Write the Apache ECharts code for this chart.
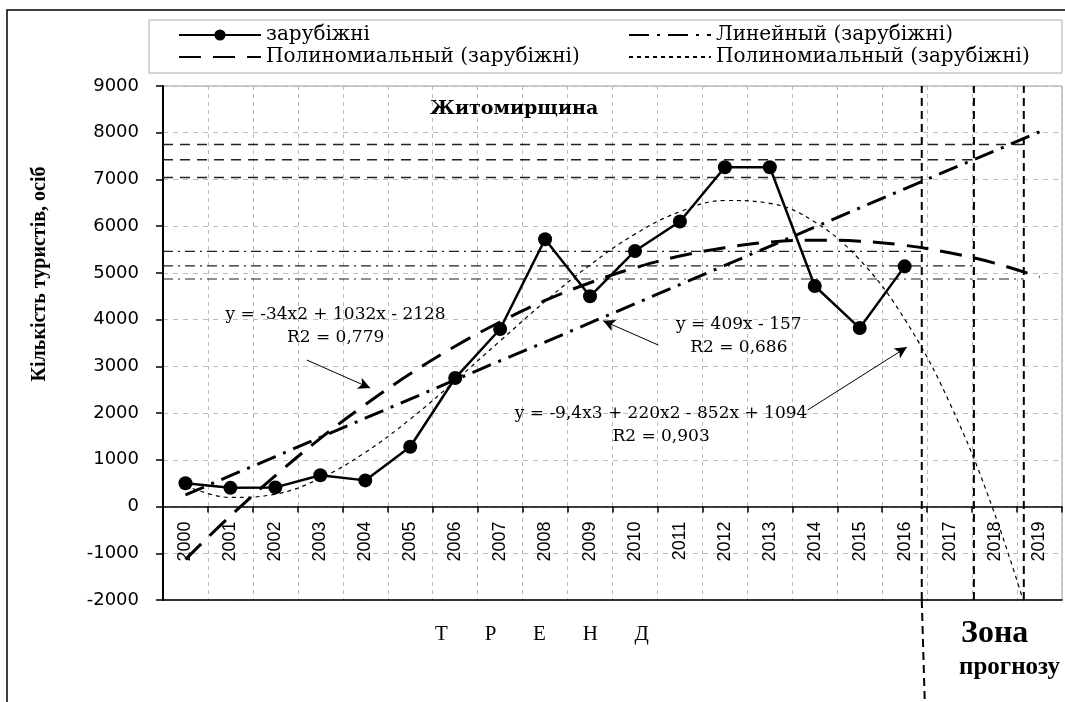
<!DOCTYPE html>
<html>
<head>
<meta charset="utf-8">
<script src="https://cdn.jsdelivr.net/npm/echarts@6/dist/echarts.min.js"></script>
<style>
  html, body { margin: 0; padding: 0; background: #fff; }
  #chart { width: 1065px; height: 702px; }
</style>
</head>
<body>
<div id="chart"></div>
<script>
// роки (категорії осі X)
const years = ['2000', '2001', '2002', '2003', '2004', '2005', '2006', '2007', '2008', '2009',
  '2010', '2011', '2012', '2013', '2014', '2015', '2016', '2017', '2018', '2019'];
// зарубіжні туристи, осіб (2000-2016)
const foreign = [500, 400, 410, 670, 560, 1280, 2750, 3800, 5720, 4500, 5470, 6100, 7260, 7260, 4720, 3820, 5140];
// лінії тренду з прогнозом до 2019
const linearTrend = [250, 660, 1070, 1480, 1890, 2300, 2710, 3120, 3520, 3930,
  4340, 4750, 5160, 5570, 5980, 6390, 6800, 7210, 7610, 8020];
const poly2Trend = [-1130, -200, 660, 1460, 2180, 2840, 3430, 3950, 4410, 4790,
  5110, 5360, 5540, 5660, 5700, 5680, 5590, 5430, 5210, 4910];
const poly3Trend = [450, 195, 265, 605, 1160, 1870, 2690, 3545, 4390, 5170,
  5830, 6310, 6550, 6490, 6090, 5280, 4010, 2220, -150, -3150];
// шкала Y
const yMin = -2000;
const yMax = 9000;
const yStep = 1000;
// межі зони прогнозу (у роках)
const zoneLines = [2016.38, 2017.54, 2018.65];
// рівні прогнозу
const dashedLevels = [7040, 7420, 7750];
const dashDotLevels = [5460, 5150, 4870];
// стрілки до рівнянь [від, до]
const arrows = [
  [[2002.70, 3135], [2004.11, 2536]],
  [[2010.52, 3456], [2009.29, 3976]],
  [[2013.84, 2065], [2016.05, 3413]],
];
// рівняння трендів
const equations = [
  { at: [2003.34, 3852], text: 'y = -34x2 + 1032x - 2128\nR2 = 0,779' },
  { at: [2012.31, 3638], text: 'y = 409x - 157\nR2 = 0,686' },
  { at: [2010.58, 1738], text: 'y = -9,4x3 + 220x2 - 852x + 1094\nR2 = 0,903' },
];

const legendNames = {
  foreign: 'зарубіжні',
  linear: 'Линейный (зарубіжні)',
  poly2: 'Полиномиальный (зарубіжні)',
  poly3: 'Полиномиальный (зарубіжні)',
};

const serif = 'DejaVu Serif';
const legendText = { fontFamily: serif, fontSize: 20, color: '#000' };

const gridTop = 86;
const gridBottom = 102;
const plotHeight = 702 - gridTop - gridBottom;
// вісь років проходить через нуль
const zeroOffset = -((0 - yMin) / (yMax - yMin)) * plotHeight;

const chart = echarts.init(document.getElementById('chart'));

function makeLegend(name, left, top, withMarker) {
  return {
    data: [withMarker ? name : { name, itemStyle: { opacity: 0 } }],
    left,
    top,
    padding: 0,
    itemWidth: 82,
    itemHeight: 14,
    itemGap: 5,
    selectedMode: false,
    textStyle: legendText,
    formatter: n => legendNames[n],
  };
}

const refSeries = [];
dashedLevels.forEach((level, i) => {
  refSeries.push({
    type: 'line',
    xAxisIndex: 1,
    data: [[1999.5, level], [zoneLines[i], level]],
    symbol: 'none',
    silent: true,
    lineStyle: { color: '#222', width: 1.5, type: [10, 7] },
  });
});
dashDotLevels.forEach((level, i) => {
  refSeries.push({
    type: 'line',
    xAxisIndex: 1,
    data: [[1999.5, level], [zoneLines[i], level]],
    symbol: 'none',
    silent: true,
    lineStyle: { color: '#222', width: 1.2, type: [10, 5, 2, 5] },
  });
});
zoneLines.forEach(x => {
  refSeries.push({
    type: 'line',
    xAxisIndex: 1,
    data: [[x, yMin], [x, yMax]],
    symbol: 'none',
    silent: true,
    lineStyle: { color: '#000', width: 2, type: [8, 5] },
  });
});
// стрілки і підписи рівнянь
refSeries[0].markLine = {
  silent: true,
  symbol: ['none', 'arrow'],
  symbolSize: [9, 12],
  label: { show: false },
  lineStyle: { color: '#000', width: 1, type: 'solid' },
  data: arrows.map(a => [{ coord: a[0] }, { coord: a[1] }]),
};
refSeries[0].markPoint = {
  silent: true,
  symbol: 'circle',
  symbolSize: 1,
  itemStyle: { color: 'rgba(0,0,0,0)' },
  label: {
    show: true,
    position: 'inside',
    fontFamily: serif,
    fontSize: 17,
    lineHeight: 23,
    color: '#000',
    align: 'center',
  },
  data: equations.map(e => ({ coord: e.at, value: 0, label: { formatter: e.text } })),
};

const graphics = [
  {
    type: 'rect',
    shape: { x: 7, y: 10, width: 1200, height: 900 },
    style: { fill: 'none', stroke: '#000', lineWidth: 1.5 },
    silent: true,
    z: -1,
  },
  {
    type: 'rect',
    shape: { x: 149, y: 20, width: 913, height: 53 },
    style: { fill: 'none', stroke: '#aaa', lineWidth: 1 },
    silent: true,
  },
  {
    type: 'text',
    x: 40,
    y: 274,
    rotation: Math.PI / 2,
    style: {
      text: 'Кількість туристів, осіб',
      font: 'bold 20px "Liberation Serif"',
      fill: '#000',
      align: 'center',
      verticalAlign: 'middle',
    },
  },
  {
    type: 'text',
    x: 542,
    y: 634,
    style: {
      text: 'Т       Р       Е       Н       Д',
      font: '21px "Liberation Serif"',
      fill: '#000',
      align: 'center',
      verticalAlign: 'middle',
    },
  },
  {
    type: 'text',
    x: 961,
    y: 634,
    style: { text: 'Зона', font: 'bold 32px "Liberation Serif"', fill: '#000', verticalAlign: 'middle' },
  },
  {
    type: 'text',
    x: 959,
    y: 668,
    style: { text: 'прогнозу', font: 'bold 25px "Liberation Serif"', fill: '#000', verticalAlign: 'middle' },
  },
];

const option = {
  animation: false,
  backgroundColor: '#fff',
  title: {
    text: 'Житомирщина',
    left: 430,
    top: 100,
    padding: 0,
    textStyle: { fontFamily: serif, fontSize: 19, fontWeight: 'bold', color: '#000' },
  },
  legend: [
    makeLegend('foreign', 178, 25, true),
    makeLegend('linear', 628, 25, false),
    makeLegend('poly2', 178, 47, false),
    makeLegend('poly3', 628, 47, false),
  ],
  grid: {
    left: 163,
    right: 3,
    top: gridTop,
    bottom: gridBottom,
    show: true,
    borderColor: '#999',
    borderWidth: 1,
  },
  xAxis: [
    {
      type: 'category',
      data: years,
      boundaryGap: true,
      position: 'bottom',
      offset: zeroOffset,
      axisLine: { onZero: false, lineStyle: { color: '#000', width: 1.5 } },
      axisTick: { show: true, length: 6, lineStyle: { color: '#000', width: 1.5 } },
      axisLabel: {
        interval: 0,
        rotate: 90,
        margin: 15,
        fontFamily: 'Liberation Sans',
        fontSize: 18,
        color: '#000',
      },
      splitLine: { show: true, interval: 0, lineStyle: { color: '#bbb', type: [4, 4] } },
    },
    {
      type: 'value',
      min: 1999.5,
      max: 2019.5,
      position: 'bottom',
      axisLine: { show: true, onZero: false, lineStyle: { color: '#000', width: 1.5 } },
      axisTick: { show: false },
      axisLabel: { show: false },
      splitLine: { show: false },
    },
  ],
  yAxis: {
    type: 'value',
    min: yMin,
    max: yMax,
    interval: yStep,
    axisLine: { show: true, onZero: false, lineStyle: { color: '#000', width: 2 } },
    axisTick: { show: true, length: 7, lineStyle: { color: '#000', width: 1.5 } },
    axisLabel: {
      margin: 24,
      fontFamily: 'DejaVu Sans',
      fontSize: 18,
      color: '#000',
      formatter: value => String(value),
    },
    splitLine: { show: true, lineStyle: { color: '#bbb', type: [5, 5] } },
  },
  series: [
    ...refSeries,
    {
      name: 'poly3',
      type: 'line',
      data: poly3Trend,
      smooth: 0.4,
      symbol: 'none',
      color: '#000',
      lineStyle: { color: '#000', width: 1.2, type: [4, 4] },
    },
    {
      name: 'poly2',
      type: 'line',
      data: poly2Trend,
      smooth: 0.4,
      symbol: 'none',
      color: '#000',
      lineStyle: { color: '#000', width: 3, type: [22, 12] },
    },
    {
      name: 'linear',
      type: 'line',
      data: linearTrend,
      symbol: 'none',
      color: '#000',
      lineStyle: { color: '#000', width: 3, type: [20, 8, 3, 8] },
    },
    {
      name: 'foreign',
      type: 'line',
      data: foreign,
      symbol: 'circle',
      symbolSize: 14,
      color: '#000',
      itemStyle: { color: '#000' },
      lineStyle: { color: '#000', width: 2.5 },
      z: 5,
    },
  ],
  graphic: graphics,
};

chart.setOption(option);

// продовження першої межі зони прогнозу вниз за межі графіка
const zoneX = chart.convertToPixel({ xAxisIndex: 1 }, zoneLines[0]);
const bottomY = chart.convertToPixel({ yAxisIndex: 0 }, yMin);
graphics.push({
  type: 'line',
  shape: { x1: zoneX, y1: bottomY, x2: zoneX + 3, y2: 702 },
  style: { stroke: '#000', lineWidth: 2, lineDash: [8, 5] },
  silent: true,
});
chart.setOption({ graphic: graphics });
</script>
</body>
</html>
